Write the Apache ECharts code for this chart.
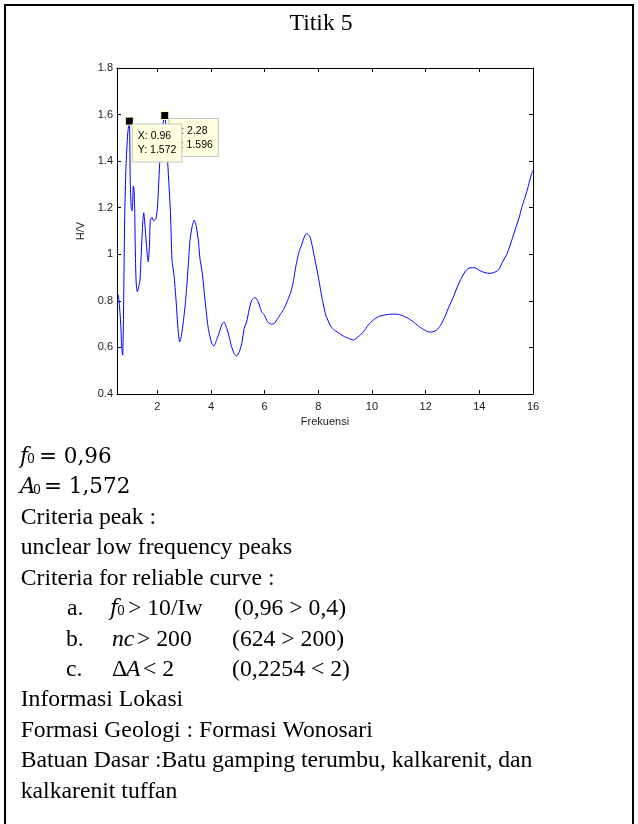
<!DOCTYPE html>
<html>
<head>
<meta charset="utf-8">
<script src="https://cdn.jsdelivr.net/npm/echarts@6/dist/echarts.min.js"></script>
<style>
  html, body { margin: 0; padding: 0; background: #fff; }
  #chart { width: 638px; height: 824px; }
</style>
</head>
<body>
<div id="chart"></div>
<script>
// H/V spectral ratio curve for Titik 5
const freq = [
  0.50, 0.54, 0.575, 0.64, 0.675, 0.712, 0.74, 0.787, 0.835, 0.90,
  0.96, 0.996, 1.03, 1.06, 1.085, 1.107, 1.13, 1.16, 1.18, 1.21,
  1.256, 1.31, 1.357, 1.41, 1.46, 1.495, 1.555, 1.618, 1.666, 1.71,
  1.74, 1.80, 1.867, 1.953, 2.01, 2.10, 2.177, 2.28, 2.326, 2.374,
  2.487, 2.55, 2.624, 2.70, 2.76, 2.835, 2.90, 2.97, 3.04, 3.097,
  3.16, 3.22, 3.30, 3.38, 3.45, 3.53, 3.59, 3.68, 3.78, 3.90,
  4.03, 4.11, 4.21, 4.30, 4.40, 4.49, 4.59, 4.68, 4.77, 4.87,
  4.96, 5.06, 5.15, 5.24, 5.33, 5.42, 5.52, 5.64, 5.76, 5.89,
  5.99, 6.11, 6.24, 6.36, 6.49, 6.61, 6.73, 6.86, 6.98, 7.07,
  7.16, 7.28, 7.38, 7.48, 7.57, 7.69, 7.78, 7.88, 8.00, 8.13,
  8.28, 8.44, 8.56, 8.75, 8.93, 9.12, 9.30, 9.49, 9.68, 9.86,
  10.05, 10.24, 10.42, 10.61, 10.79, 10.98, 11.17, 11.35, 11.54, 11.73,
  11.91, 12.10, 12.22, 12.41, 12.56, 12.72, 12.87, 13.03, 13.18, 13.34,
  13.50, 13.65, 13.84, 14.02, 14.21, 14.40, 14.55, 14.71, 14.87, 15.04,
  15.21, 15.37, 15.49, 15.58, 15.77, 15.95, 16.00
];
const hv = [
  0.833, 0.826, 0.80, 0.70, 0.60, 0.567, 0.72, 1.161, 1.376, 1.52,
  1.572, 1.30, 1.20, 1.187, 1.22, 1.293, 1.283, 1.19, 1.032, 0.889,
  0.839, 0.86, 0.889, 1.018, 1.14, 1.178, 1.104, 1.01, 0.968, 1.04,
  1.144, 1.158, 1.144, 1.154, 1.207, 1.41, 1.533, 1.596, 1.533, 1.426,
  1.19, 0.975, 0.91, 0.803, 0.70, 0.624, 0.65, 0.71, 0.78, 0.86,
  0.96, 1.06, 1.12, 1.147, 1.12, 1.061, 0.982, 0.918, 0.803, 0.682,
  0.618, 0.606, 0.632, 0.66, 0.696, 0.71, 0.682, 0.646, 0.603, 0.572,
  0.563, 0.582, 0.618, 0.682, 0.71, 0.76, 0.803, 0.815, 0.796, 0.753,
  0.739, 0.71, 0.70, 0.703, 0.725, 0.746, 0.768, 0.803, 0.839, 0.882,
  0.946, 1.01, 1.04, 1.075, 1.09, 1.075, 1.032, 0.975, 0.903, 0.818,
  0.739, 0.696, 0.678, 0.663, 0.649, 0.639, 0.632, 0.646, 0.667, 0.696,
  0.718, 0.732, 0.738, 0.742, 0.743, 0.742, 0.735, 0.725, 0.71, 0.692,
  0.678, 0.667, 0.666, 0.675, 0.696, 0.732, 0.775, 0.815, 0.86, 0.90,
  0.93, 0.942, 0.942, 0.93, 0.921, 0.918, 0.922, 0.932, 0.968, 1.004,
  1.061, 1.118, 1.16, 1.20, 1.27, 1.347, 1.36
];
// data tips (peak picks)
const tipFreq = [2.28, 0.96];
const tipHV = [1.596, 1.572];
const tipOffset = [[9, 8], [8, 8]];
// axis ticks
const xTicks = [2, 4, 6, 8, 10, 12, 14, 16];
const yMin = 0.4, yMax = 1.8, yStep = 0.2;
const xMin = 0.5, xMax = 16;

const chart = echarts.init(document.getElementById('chart'), null, { renderer: 'canvas' });

const axisFont = { fontFamily: '"Liberation Sans", Arial, sans-serif', fontSize: 11, color: '#1a1a1a' };
const lineBlack = { color: '#000', width: 1 };

const serif = '"Liberation Serif", "Times New Roman", serif';
const mathFont = '"DejaVu Serif", serif';
const FS = 23.7;
const lineGap = 30.4;
const firstBase = 465;

function base(i) { return firstBase + i * lineGap; }
function txt(x, baseline, s, font) {
  return {
    type: 'text',
    silent: true,
    style: {
      x: x, y: baseline - 8,
      text: s,
      font: font,
      fill: '#000',
      textAlign: 'left', align: 'left',
      textVerticalAlign: 'middle', verticalAlign: 'middle'
    }
  };
}
const plain = FS + 'px ' + serif;
const ital = 'italic ' + FS + 'px ' + serif;
const mPlain = '21.5px ' + mathFont;
const mItal = 'italic 21.5px ' + mathFont;
const mSub = '12.5px ' + mathFont;

const graphics = [
  // page frame
  { type: 'rect', silent: true, shape: { x: 5, y: 5, width: 628, height: 840 },
    style: { fill: 'none', stroke: '#000', lineWidth: 2 } },
  // heading
  { type: 'text', silent: true,
    style: { x: 321, y: 24, text: 'Titik 5', font: FS + 'px ' + serif, fill: '#000',
      textAlign: 'center', align: 'center', textVerticalAlign: 'middle', verticalAlign: 'middle' } },
  // f0 = 0,96
  txt(20, base(0), 'f', mItal),
  txt(27, base(0) + 3, '0', mSub),
  txt(39, base(0), '= 0,96', mPlain),
  // A0 = 1,572
  txt(20, base(1), 'A', mItal),
  txt(33, base(1) + 3, '0', mSub),
  txt(44, base(1), '= 1,572', mPlain),
  txt(20.7, base(2), 'Criteria peak :', plain),
  txt(20.7, base(3), 'unclear low frequency peaks', plain),
  txt(20.7, base(4), 'Criteria for reliable curve :', plain),
  // a.
  txt(67, base(5), 'a.', plain),
  txt(110, base(5), 'f', mItal),
  txt(117, base(5) + 3, '0', mSub),
  txt(128, base(5), '> 10/Iw', plain),
  txt(234, base(5), '(0,96 > 0,4)', plain),
  // b.
  txt(66, base(6), 'b.', plain),
  txt(112, base(6), 'nc', ital),
  txt(137, base(6), '> 200', plain),
  txt(232, base(6), '(624 > 200)', plain),
  // c.
  txt(66, base(7), 'c.', plain),
  txt(112, base(7), '\u0394', plain),
  txt(126, base(7), 'A', ital),
  txt(143, base(7), '< 2', plain),
  txt(232, base(7), '(0,2254 < 2)', plain),
  txt(20.7, base(8), 'Informasi Lokasi', plain),
  txt(20.7, base(9), 'Formasi Geologi : Formasi Wonosari', plain),
  txt(20.7, base(10), 'Batuan Dasar :Batu gamping terumbu, kalkarenit, dan', plain),
  txt(20.7, base(11), 'kalkarenit tuffan', plain)
];

const option = {
  animation: false,
  backgroundColor: '#fff',
  grid: { left: 117, right: 105, top: 68, bottom: 430, containLabel: false },
  xAxis: [
    {
      type: 'value', min: xMin, max: xMax, position: 'bottom',
      axisLine: { show: true, onZero: false, lineStyle: lineBlack },
      axisTick: { show: true, inside: true, length: 4, customValues: xTicks, lineStyle: lineBlack },
      axisLabel: Object.assign({ show: true, margin: 7, customValues: xTicks }, axisFont),
      splitLine: { show: false },
      name: 'Frekuensi', nameLocation: 'middle', nameGap: 22,
      nameTextStyle: axisFont
    },
    {
      type: 'value', min: xMin, max: xMax, position: 'top',
      axisLine: { show: true, onZero: false, lineStyle: lineBlack },
      axisTick: { show: true, inside: true, length: 4, customValues: xTicks, lineStyle: lineBlack },
      axisLabel: { show: false },
      splitLine: { show: false }
    }
  ],
  yAxis: [
    {
      type: 'value', min: yMin, max: yMax, interval: yStep, position: 'left',
      axisLine: { show: true, onZero: false, lineStyle: lineBlack },
      axisTick: { show: true, inside: true, length: 4, lineStyle: lineBlack },
      axisLabel: Object.assign({ show: true, margin: 4 }, axisFont),
      splitLine: { show: false },
      name: 'H/V', nameLocation: 'middle', nameGap: 27,
      nameTextStyle: axisFont
    },
    {
      type: 'value', min: yMin, max: yMax, interval: yStep, position: 'right',
      axisLine: { show: true, onZero: false, lineStyle: lineBlack },
      axisTick: { show: true, inside: true, length: 4, lineStyle: lineBlack },
      axisLabel: { show: false },
      splitLine: { show: false }
    }
  ],
  series: [
    {
      type: 'line',
      xAxisIndex: 0, yAxisIndex: 0,
      data: freq.map((f, i) => [f, hv[i]]),
      showSymbol: false,
      smooth: 0.2,
      silent: true,
      lineStyle: { color: '#0000ff', width: 1 },
      markPoint: {
        silent: true,
        symbol: 'rect',
        symbolSize: 8,
        itemStyle: { color: '#000', borderColor: '#ffffc8', borderWidth: 1 },
        data: tipFreq.map((f, i) => ({
          coord: [f, tipHV[i]],
          label: {
            show: true,
            position: tipOffset[i],
            formatter: 'X: ' + f + '\nY: ' + tipHV[i],
            backgroundColor: '#ffffe1',
            borderColor: '#c4c4c4',
            borderWidth: 1,
            padding: [5, 5, 4, 5],
            fontFamily: '"Liberation Sans", Arial, sans-serif',
            fontSize: 10.5,
            lineHeight: 14,
            color: '#000',
            align: 'left'
          }
        }))
      }
    }
  ],
  graphic: { elements: graphics }
};

chart.setOption(option);
</script>
</body>
</html>
